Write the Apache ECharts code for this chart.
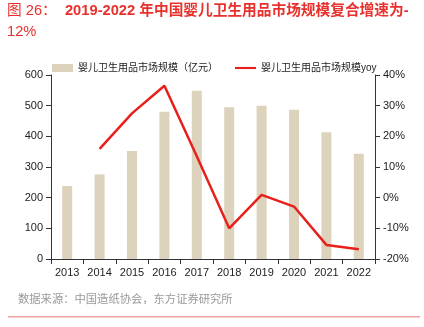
<!DOCTYPE html>
<html><head><meta charset="utf-8">
<script src="https://cdn.jsdelivr.net/npm/echarts@6/dist/echarts.min.js"></script>
<style>html,body{margin:0;padding:0;background:#fff}#c{width:424px;height:327px}</style>
</head><body><div id="c"></div>
<script>
const years = ['2013','2014','2015','2016','2017','2018','2019','2020','2021','2022'];
const marketSize = [238, 276, 352, 480, 549, 495, 500, 487, 413, 343];
const yoy = [null, 15.9, 27.5, 36.5, 13.5, -10.0, 0.9, -2.9, -15.4, -16.8];
const leftTicks = [0, 100, 200, 300, 400, 500, 600];
const rightTicks = [-20, -10, 0, 10, 20, 30, 40];
const barName = '婴儿卫生用品市场规模（亿元）';
const lineName = '婴儿卫生用品市场规模yoy';

const FONT = '"Liberation Sans", Arial, "Noto Sans CJK SC", sans-serif';
const chart = echarts.init(document.getElementById('c'));
chart.setOption({
  animation: false,
  textStyle: {fontFamily: FONT},
  graphic: [
    {type: 'text', left: 7, top: 4, style: {
      text: '{a|图 26：  }{b|2019-2022 年中国婴儿卫生用品市场规模复合增速为-}\n{a|12%}',
      rich: {
        a: {fontSize: 14.7, fill: '#e8302c', fontFamily: FONT, lineHeight: 21},
        b: {fontSize: 14.7, fill: '#e8302c', fontWeight: 'bold', fontFamily: FONT, lineHeight: 21}
      }
    }},
    {type: 'text', left: 18, top: 294, style: {
      text: '数据来源：中国造纸协会，东方证券研究所', fontSize: 11.3, fill: '#999999', fontFamily: FONT
    }},
    {type: 'rect', shape: {x: 8, y: 316, width: 412, height: 1.5}, style: {fill: '#f0a0a0'}}
  ],
  legend: {
    top: 58, left: 47, itemGap: 17, itemWidth: 21, itemHeight: 8,
    textStyle: {fontSize: 10, color: '#222', fontFamily: FONT},
    data: [
      {name: barName, icon: 'rect'},
      {name: lineName, icon: 'path://M0,4 L20,4 L20,6 L0,6 Z', itemStyle: {color: '#e8201c'}}
    ]
  },
  grid: {left: 51, right: 49, top: 75, bottom: 68},
  xAxis: {
    type: 'category', data: years,
    axisLine: {lineStyle: {color: '#333'}},
    axisTick: {show: true, alignWithLabel: false, lineStyle: {color: '#333'}},
    axisLabel: {color: '#222', fontSize: 11, margin: 8}
  },
  yAxis: [
    {type: 'value', min: 0, max: 600, interval: 100,
     axisLine: {show: true, lineStyle: {color: '#333'}},
     axisTick: {show: true, lineStyle: {color: '#333'}},
     splitLine: {show: false},
     axisLabel: {color: '#222', fontSize: 11}},
    {type: 'value', min: -20, max: 40, interval: 10,
     axisLine: {show: true, lineStyle: {color: '#333'}},
     axisTick: {show: true, lineStyle: {color: '#333'}},
     splitLine: {show: false},
     axisLabel: {color: '#222', fontSize: 11, formatter: '{value}%'}}
  ],
  series: [
    {name: barName, type: 'bar', data: marketSize, barWidth: 10,
     itemStyle: {color: '#ddd3bc'}},
    {name: lineName, type: 'line', yAxisIndex: 1, data: yoy,
     symbol: 'none', lineStyle: {color: '#e8201c', width: 2.5},
     itemStyle: {color: '#e8201c'}}
  ]
});
</script></body></html>
